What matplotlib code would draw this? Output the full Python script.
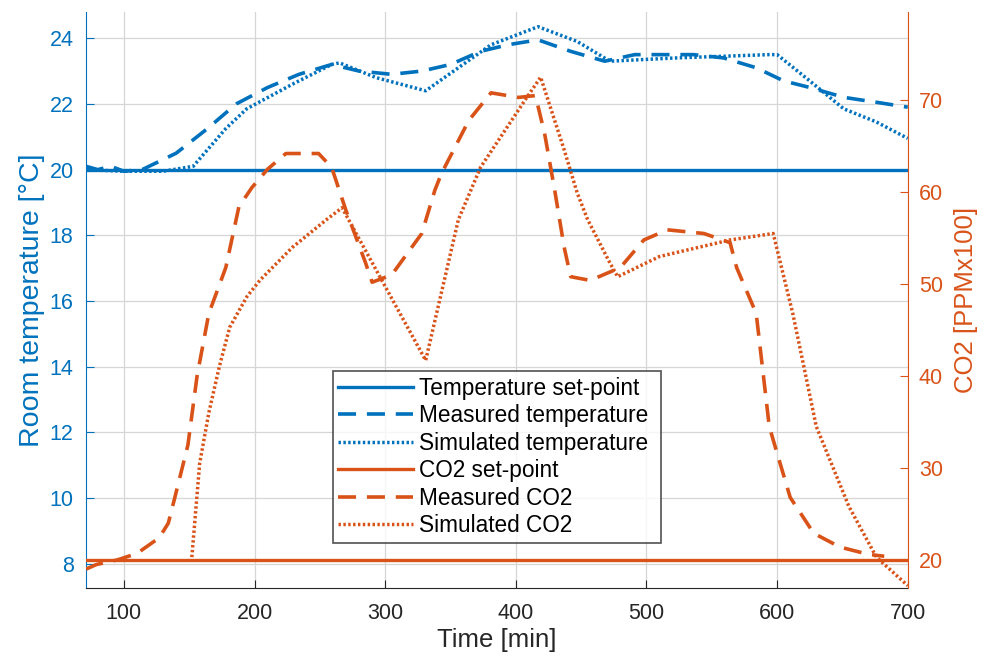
import numpy as np
import matplotlib.pyplot as plt

plt.rcParams['font.family'] = ['Liberation Sans', 'DejaVu Sans']

BLUE = "#0072BD"
ORANGE = "#D95319"

# set-points
temp_setpoint = 20
co2_setpoint = 20

# measured temperature
t_meas_temp = [71, 80, 90, 100, 114, 140, 164, 186, 210, 234, 259, 280, 305, 328, 350,
               373, 394, 417, 442, 468, 491, 510, 536, 559, 584, 605, 625, 651, 676, 700]
meas_temp = [20.1, 20.0, 20.1, 19.95, 20.0, 20.5, 21.25, 22.0, 22.5, 22.9, 23.2, 23.0, 22.9, 23.0, 23.2,
             23.6, 23.8, 23.95, 23.6, 23.3, 23.5, 23.5, 23.5, 23.4, 23.1, 22.7, 22.5, 22.2, 22.05, 21.9]

# simulated temperature
t_sim_temp = [71, 100, 130, 153, 178, 194, 229, 259, 265, 293, 331, 381, 417, 447, 472,
              523, 594, 600, 625, 651, 676, 700]
sim_temp = [20.0, 19.95, 19.95, 20.1, 21.25, 21.85, 22.6, 23.2, 23.25, 22.8, 22.4, 23.8, 24.35, 23.9, 23.3,
            23.4, 23.5, 23.5, 22.7, 21.85, 21.45, 20.95]

# measured CO2
t_meas_co2 = [71, 79, 95, 110, 127, 134, 139, 149, 156, 165, 178, 188, 198, 210, 224, 249, 259,
              270, 285, 290, 305, 328, 338, 343, 364, 381, 402, 415, 422, 430, 437, 442, 457,
              480, 498, 516, 544, 564, 569, 584, 594, 600, 610, 628, 648, 670, 682]
meas_co2 = [19.0, 19.5, 20.0, 20.7, 22.4, 24.0, 26.8, 32.5, 40.0, 46.8, 51.8, 58.4, 60.5, 62.5, 64.2, 64.2, 62.7,
            58.0, 52.3, 50.2, 51.0, 55.5, 60.2, 62.0, 67.8, 70.8, 70.3, 70.5, 66.4, 60.0, 54.0, 50.8, 50.4,
            51.8, 54.8, 55.9, 55.5, 54.5, 51.8, 46.8, 34.5, 31.6, 26.8, 22.9, 21.4, 20.6, 20.4]

# simulated CO2
t_sim_co2 = [152, 158, 165, 173, 181, 194, 204, 229, 255, 267, 331, 356, 373, 407, 419, 437, 447,
             455, 472, 478, 510, 564, 597, 612, 630, 655, 676, 700]
sim_co2 = [20.3, 30.5, 36.0, 41.0, 45.3, 48.6, 50.4, 54.0, 57.0, 58.3, 41.7, 57.0, 62.7, 70.0, 72.5, 64.6, 59.9,
           57.0, 52.3, 50.8, 53.0, 54.8, 55.5, 46.8, 34.5, 25.8, 20.3, 17.2]

x_ticks = [100, 200, 300, 400, 500, 600, 700]
temp_ticks = [8, 10, 12, 14, 16, 18, 20, 22, 24]
co2_ticks = [20, 30, 40, 50, 60, 70]

fig = plt.figure(figsize=(9.91, 6.62), dpi=100)
ax = fig.add_axes([0.0868, 0.112, 0.8292, 0.870])
ax2 = ax.twinx()

h1 = ax.axhline(temp_setpoint, color=BLUE, lw=2.4, label="Temperature set-point")
h2, = ax.plot(t_meas_temp, meas_temp, color=BLUE, lw=2.6, ls=(0, (5, 3)), label="Measured temperature")
h3, = ax.plot(t_sim_temp, sim_temp, color=BLUE, lw=2.5, ls=(0, (0.7, 0.7)), label="Simulated temperature")

h4 = ax2.axhline(co2_setpoint, color=ORANGE, lw=2.4, label="CO2 set-point")
h5, = ax2.plot(t_meas_co2, meas_co2, color=ORANGE, lw=2.6, ls=(0, (5, 3)), label="Measured CO2")
h6, = ax2.plot(t_sim_co2, sim_co2, color=ORANGE, lw=2.5, ls=(0, (0.7, 0.7)), label="Simulated CO2")

ax.set_xlim(71, 700)
ax.set_ylim(7.27, 24.8)
ax2.set_ylim(16.96, 79.6)

ax.set_xticks(x_ticks)
ax.set_yticks(temp_ticks)
ax2.set_yticks(co2_ticks)

ax.grid(True, color="#d6d6d6", lw=0.9)
ax.set_axisbelow(True)

ax.tick_params(axis='x', direction='in', labelsize=15.5, colors="#262626", length=6, pad=11)
ax.tick_params(axis='y', direction='in', labelsize=15.5, colors=BLUE, length=6, pad=9)
ax2.tick_params(axis='y', direction='in', labelsize=15.5, colors=ORANGE, length=6, pad=8)

ax.set_xlabel("Time [min]", fontsize=18.5, color="#262626", labelpad=3)
ax.set_ylabel("Room temperature [°C]", fontsize=20.5, color=BLUE, labelpad=3)
ax2.set_ylabel("CO2 [PPMx100]", fontsize=18.5, color=ORANGE, labelpad=8)

for a in (ax, ax2):
    a.spines['top'].set_visible(False)
ax.spines['left'].set_color(BLUE)
ax.spines['bottom'].set_color("#262626")
ax2.spines['right'].set_color(ORANGE)
ax2.spines['left'].set_visible(False)
ax2.spines['bottom'].set_visible(False)
ax.spines['right'].set_visible(False)

leg = ax2.legend(handles=[h1, h2, h3, h4, h5, h6], loc='lower left',
                 bbox_to_anchor=(0.30, 0.078, 0.40, 0.295), mode='expand',
                 fontsize=16.3, frameon=True, fancybox=False, edgecolor="#262626",
                 handlelength=3.3, handletextpad=0.28, borderaxespad=0, borderpad=0.25,
                 labelspacing=0.2)
leg.get_frame().set_linewidth(1.2)

fig.savefig("out.png", dpi=100, facecolor="white")
